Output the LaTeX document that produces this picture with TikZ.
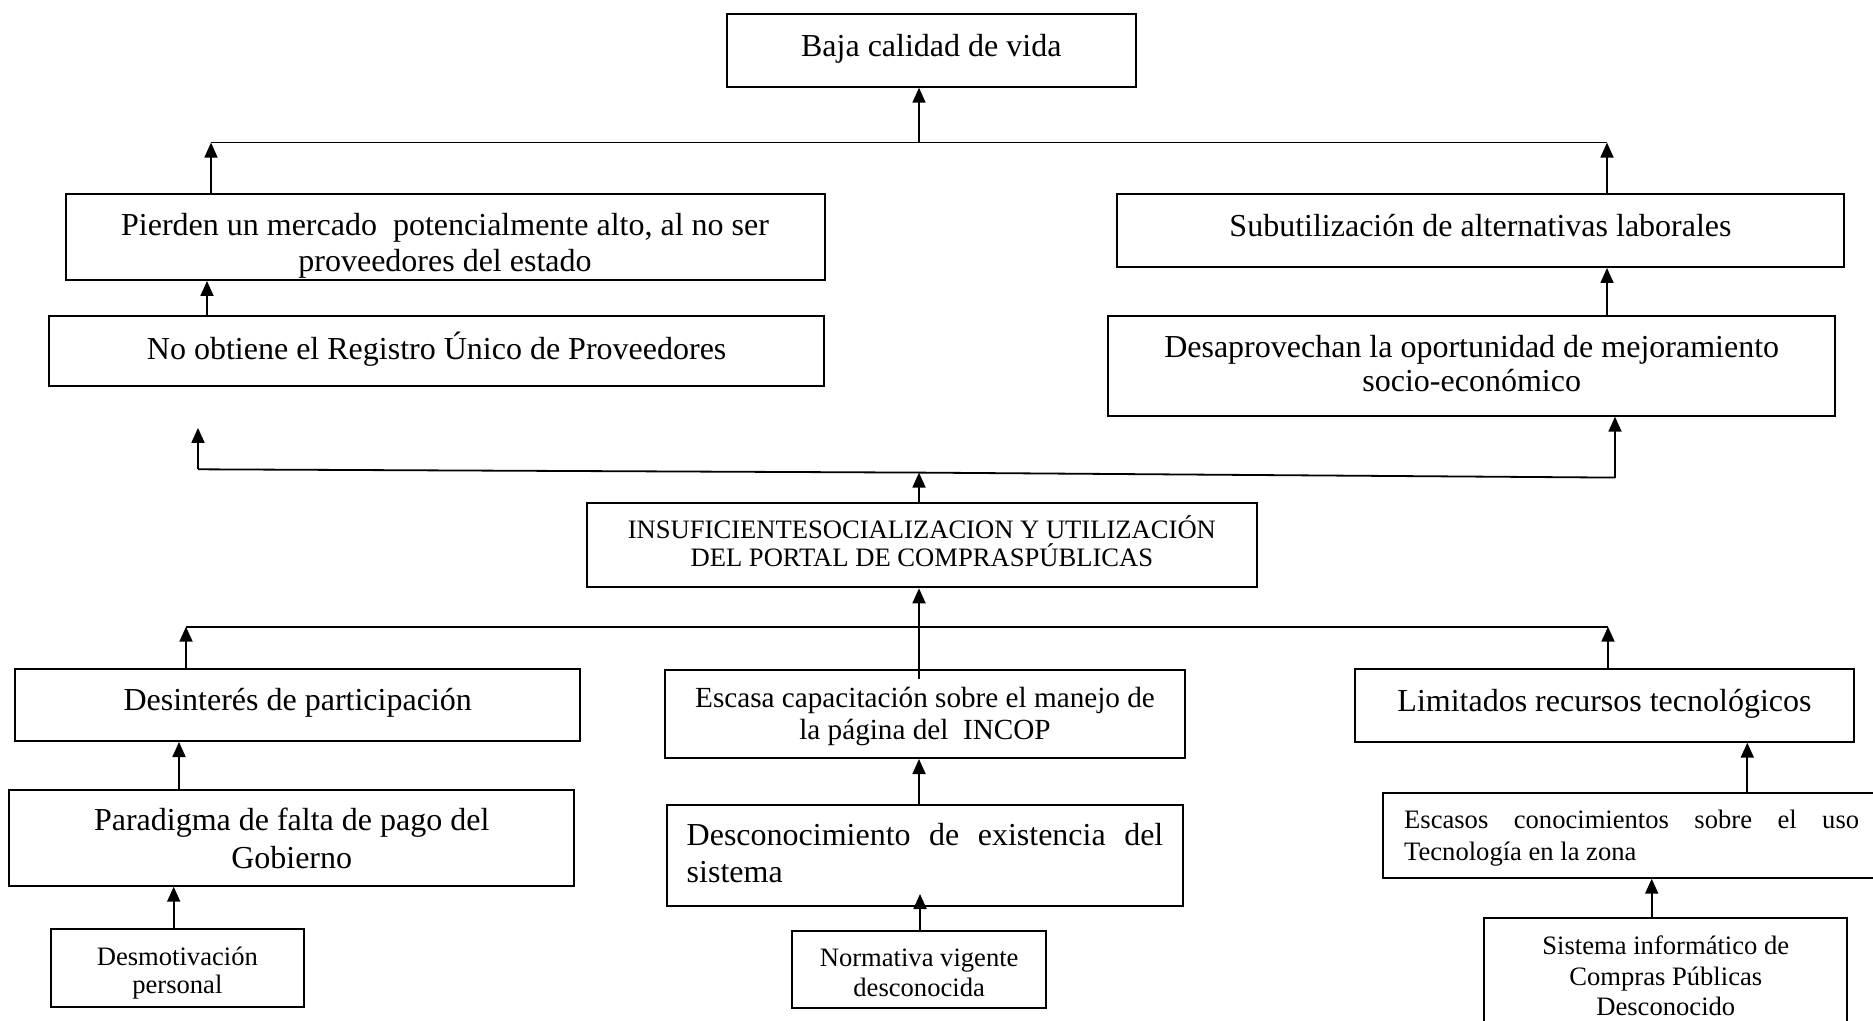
\documentclass[tikz,border=0pt]{standalone}
\usepackage{fontspec}
\setmainfont{Liberation Serif}
\usetikzlibrary{arrows.meta}
\tikzset{
  box/.style={draw, line width=1pt, inner sep=0pt, align=flush center},
  fbig/.style={font=\fontsize{16}{18}\selectfont},
  fmed/.style={font=\fontsize{14.6}{16.2}\selectfont},
  fsml/.style={font=\fontsize{13.3}{15}\selectfont},
  up/.style={text height=0pt, text depth=#1},
  dn/.style={text height=#1, text depth=0pt},
  arr/.style={line width=0.9pt, -{Triangle[length=7.5pt,width=6.5pt]}},
  ln/.style={line width=0.9pt},
}
\begin{document}
\begin{tikzpicture}[x=0.5pt,y=-0.5pt]
\useasboundingbox (0,0) rectangle (1873,1021);
\clip (0,0) rectangle (1873,1021);

% boxes
\node[box,fbig,text width=200pt,dn=5.85pt,minimum width=204.3pt,minimum height=36.35pt] (baja) at (931.3,50.35) {Baja calidad de vida};
\node[box,font=\fontsize{16}{18}\selectfont,text width=370pt,up=1.3pt,minimum width=379.5pt,minimum height=43pt] (pierden) at (445,237) {Pierden un mercado~ potencialmente alto, al no ser\\proveedores del estado};
\node[box,fbig,text width=380pt,dn=8.25pt,minimum width=387.3pt,minimum height=35.15pt] (noobt) at (436.7,350.85) {No obtiene el Registro Único de Proveedores};
\node[box,fbig,text width=355pt,dn=5.9pt,minimum width=363.5pt,minimum height=36.5pt] (subut) at (1480.5,230.5) {Subutilización de alternativas laborales};
\node[box,font=\fontsize{16}{17.2}\selectfont,text width=355pt,up=8.3pt,minimum width=363.3pt,minimum height=50pt] (desap) at (1471.7,365.7) {Desaprovechan la oportunidad de mejoramiento\\socio-económico};
\node[box,font=\fontsize{13.3}{14.2}\selectfont,text width=330pt,up=6.5pt,minimum width=335.2pt,minimum height=42.3pt] (insuf) at (921.9,545) {INSUFICIENTESOCIALIZACION Y UTILIZACIÓN\\DEL PORTAL DE COMPRASPÚBLICAS};
\node[box,fbig,text width=275pt,dn=5pt,minimum width=282.3pt,minimum height=36pt] (desint) at (297.7,705) {Desinterés de participación};
\node[box,fmed,text width=255pt,up=6.5pt,minimum width=260pt,minimum height=44pt] (escasa) at (925,714) {Escasa capacitación sobre el manejo de\\la página del~ INCOP};
\node[box,fbig,text width=245pt,dn=5.65pt,minimum width=249.5pt,minimum height=36.35pt] (limit) at (1604.5,705.35) {Limitados recursos tecnológicos};
\node[box,font=\fontsize{16}{19}\selectfont,text width=275pt,up=7.85pt,minimum width=282.3pt,minimum height=47.85pt] (parad) at (291.7,837.85) {Paradigma de falta de pago del\\Gobierno};
\node[box,font=\fontsize{16}{18.7}\selectfont,text width=238.3pt,align=flush left,up=10.5pt,minimum width=258pt,minimum height=50.5pt] (descon) at (925,855.5) {Desconocimiento\hfill de\hfill existencia\hfill del\\sistema};
\node[box,font=\fontsize{13.3}{15.8}\selectfont,text width=227.5pt,align=flush left,up=6.7pt,minimum width=248.35pt,minimum height=42.5pt] (escasos) at (1631.65,835.2) {Escasos\hfill conocimientos\hfill sobre\hfill el\hfill uso\\Tecnología en la zona};
\node[box,font=\fontsize{13.3}{15.2}\selectfont,text width=175pt,up=21.65pt,minimum width=181.5pt,minimum height=58.65pt] (sistema) at (1665.8,976.35) {Sistema informático de\\Compras Públicas\\Desconocido};
\node[box,font=\fontsize{13.3}{14}\selectfont,text width=120pt,up=3pt,minimum width=126.65pt,minimum height=39pt] (desmot) at (177.35,968) {Desmotivación\\personal};
\node[box,font=\fontsize{13.3}{15}\selectfont,text width=120pt,up=2.65pt,minimum width=126.85pt,minimum height=38.35pt] (norm) at (919.15,969.35) {Normativa vigente\\desconocida};

% junction coordinates
\coordinate (tl) at (211,142.6);
\coordinate (tc) at (919,142.6);
\coordinate (tr) at (1607,142.6);
\coordinate (ml) at (198,469.3);
\coordinate (mc) at (919,472.6);
\coordinate (mr) at (1615,477.6);
\coordinate (mlt) at (198,427.9);
\coordinate (bl) at (186,626.7);
\coordinate (bc) at (919,626.7);
\coordinate (br) at (1608,626.7);
\coordinate (x207) at (207,0);
\coordinate (x179) at (179,0);
\coordinate (x174) at (173.7,0);
\coordinate (x920) at (920,0);
\coordinate (x1747) at (1747.3,0);
\coordinate (x1652) at (1651.7,0);

% connectors
\draw[ln] (tl) -- (tr);
\draw[arr] (tc) -- (baja.south -| tc);
\draw[arr] (pierden.north -| tl) -- (tl);
\draw[arr] (subut.north -| tr) -- (tr);
\draw[arr] (noobt.north -| x207) -- (pierden.south -| x207);
\draw[arr] (desap.north -| tr) -- (subut.south -| tr);
\draw[ln] (ml) -- (mc) -- (mr);
\draw[arr] (ml) -- (mlt);
\draw[arr] (mr) -- (desap.south -| mr);
\draw[arr] (insuf.north -| mc) -- (mc);
\draw[ln] (bl) -- (br);
\draw[arr] (desint.north -| bl) -- (bl);
\draw[arr] (limit.north -| br) -- (br);
\draw[arr] ([yshift=-5pt]escasa.north -| bc) -- (insuf.south -| bc);
\draw[arr] (parad.north -| x179) -- (desint.south -| x179);
\draw[arr] (desmot.north -| x174) -- (parad.south -| x174);
\draw[arr] (descon.north -| bc) -- (escasa.south -| bc);
\draw[arr] (norm.north -| x920) -- ([yshift=6.5pt]descon.south -| x920);
\draw[arr] (escasos.north -| x1747) -- (limit.south -| x1747);
\draw[arr] (sistema.north -| x1652) -- (escasos.south -| x1652);
\end{tikzpicture}
\end{document}
